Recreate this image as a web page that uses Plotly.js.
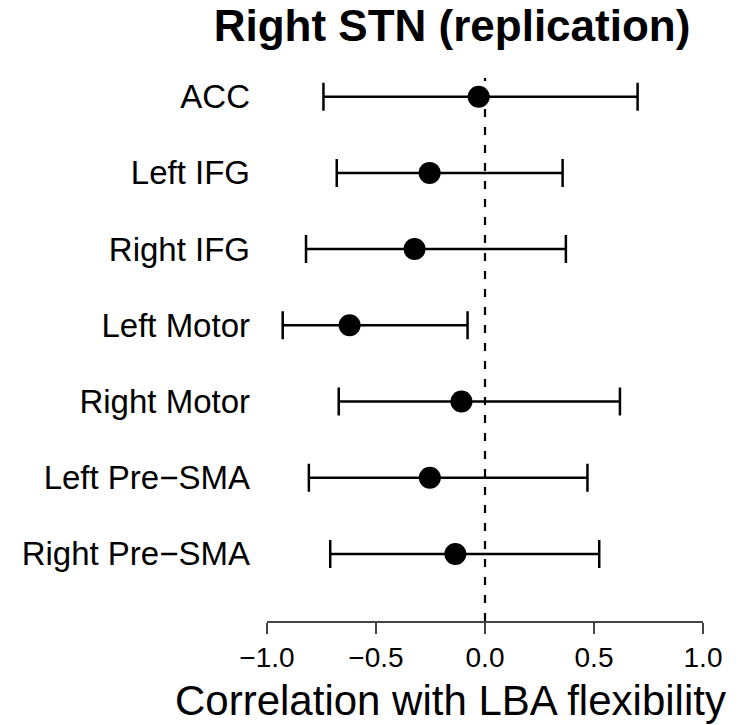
<!DOCTYPE html>
<html>
<head>
<meta charset="utf-8">
<script src="https://cdn.plot.ly/plotly-3.0.1.min.js"></script>
<style>html,body{margin:0;padding:0;background:#fff;}#chart{width:756px;height:725px;}</style>
</head>
<body>
<div id="chart"></div>
<script>
const regions = ["ACC", "Left IFG", "Right IFG", "Left Motor", "Right Motor", "Left Pre\u2212SMA", "Right Pre\u2212SMA"];
const estimate = [-0.029, -0.254, -0.323, -0.621, -0.108, -0.253, -0.136];
const ciLow    = [-0.741, -0.680, -0.821, -0.928, -0.671, -0.808, -0.710];
const ciHigh   = [ 0.700,  0.356,  0.371, -0.080,  0.619,  0.470,  0.524];
const xTicks = [-1.0, -0.5, 0.0, 0.5, 1.0];
const xTickText = ["\u22121.0", "\u22120.5", "0.0", "0.5", "1.0"];

const errPlus = estimate.map((v, i) => ciHigh[i] - v);
const errMinus = estimate.map((v, i) => v - ciLow[i]);

const font = "Liberation Sans, Arial, Helvetica, sans-serif";

const trace = {
  type: "scatter",
  mode: "markers",
  x: estimate,
  y: regions,
  marker: {color: "#000", size: 22},
  error_x: {
    type: "data", symmetric: false,
    array: errPlus, arrayminus: errMinus,
    color: "#000", thickness: 2.5, width: 14
  },
  cliponaxis: false,
  hoverinfo: "skip",
  showlegend: false
};

const layout = {
  width: 756, height: 725,
  margin: {l: 267, r: 53, t: 78, b: 104},
  paper_bgcolor: "#fff", plot_bgcolor: "#fff",
  font: {family: font, color: "#000"},
  title: {
    text: "<b>Right STN (replication)</b>",
    font: {size: 44, family: font, color: "#000"},
    x: 452 / 756, xref: "container", xanchor: "center",
    y: 1 - 10 / 725, yref: "container", yanchor: "top"
  },
  xaxis: {
    range: [-1, 1],
    tickvals: xTicks, ticktext: xTickText,
    showgrid: false, zeroline: false,
    showline: true, linecolor: "#444", linewidth: 1.5,
    ticks: "outside", ticklen: 11, tickwidth: 1.5, tickcolor: "#444",
    tickfont: {size: 28, family: font, color: "#000"},
    ticklabelstandoff: 0
  },
  yaxis: {
    type: "category",
    categoryorder: "array", categoryarray: regions,
    range: [6.88, -0.245],
    showgrid: false, zeroline: false, showline: false,
    ticks: "",
    tickfont: {size: 33, family: font, color: "#000"},
    ticklabelstandoff: 16
  },
  shapes: [{
    type: "line", xref: "x", x0: 0, x1: 0,
    yref: "paper", y0: 0, y1: 1,
    line: {color: "#000", width: 2.2, dash: "8px,10px"}
  }],
  annotations: [{
    text: "Correlation with LBA flexibility",
    xref: "paper", x: (450 - 267) / 436, xanchor: "center",
    yref: "paper", y: -104 / 543, yanchor: "bottom",
    showarrow: false, borderpad: 0,
    font: {size: 42, family: font, color: "#000"}
  }]
};

Plotly.newPlot("chart", [trace], layout, {displayModeBar: false, staticPlot: true});
</script>
</body>
</html>
